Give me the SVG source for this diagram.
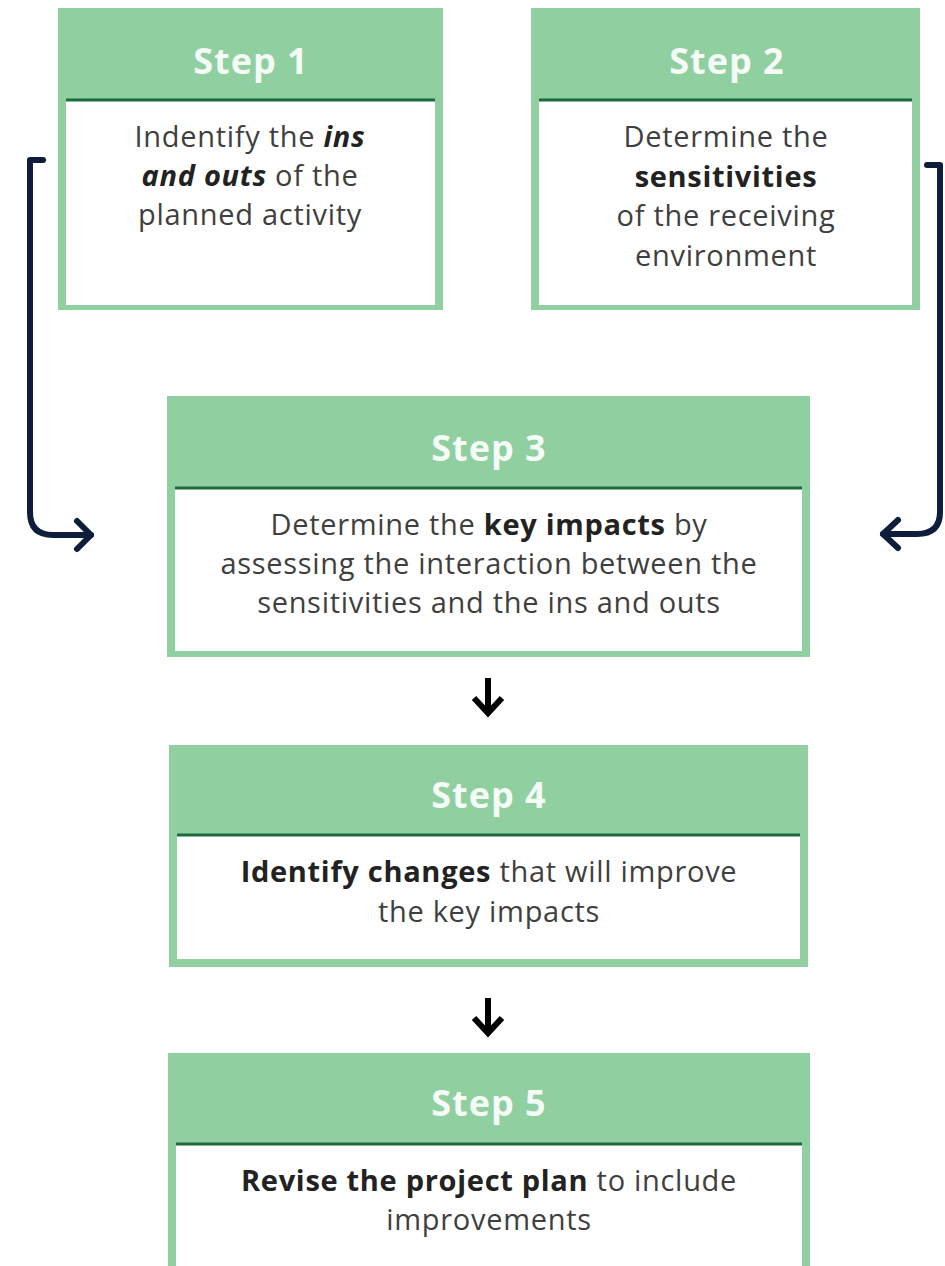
<svg xmlns="http://www.w3.org/2000/svg" width="945" height="1266" viewBox="0 0 945 1266">
<style>
.outer{fill:#90cfa0}
.inner{fill:#ffffff}
.bar{stroke:#1c6a3b;stroke-width:3}
.hd{font-family:"Open Sans","Liberation Sans",sans-serif;font-weight:700;font-size:36px;letter-spacing:1px;fill:#f5fbf6;text-anchor:middle}
.tx{font-family:"Open Sans","Liberation Sans",sans-serif;font-size:29px;letter-spacing:0.7px;fill:#3f3f3f;text-anchor:middle}
.b{font-weight:700;fill:#222222}
.conn{fill:none;stroke:#0e1d3c;stroke-width:6;stroke-linecap:round;stroke-linejoin:round}
.down{fill:none;stroke:#000000;stroke-width:6;stroke-linejoin:miter}
</style>
<rect width="945" height="1266" fill="#ffffff"/>
<g id="step1">
<rect class="outer" x="58" y="8" width="385" height="302"/>
<rect class="inner" x="66" y="100" width="369" height="205"/>
<line class="bar" x1="66" y1="100" x2="435" y2="100"/>
<text class="hd" x="251" y="74">Step 1</text>
<text class="tx" x="250" y="147">Indentify the <tspan class="b" font-style="italic">ins</tspan></text>
<text class="tx" x="250" y="186"><tspan class="b" font-style="italic">and outs</tspan> of the</text>
<text class="tx" x="250" y="225">planned activity</text>
</g>
<g id="step2">
<rect class="outer" x="531" y="8" width="389" height="302"/>
<rect class="inner" x="539" y="100" width="373" height="205"/>
<line class="bar" x1="539" y1="100" x2="912" y2="100"/>
<text class="hd" x="727" y="74">Step 2</text>
<text class="tx" x="726" y="147">Determine the</text>
<text class="tx" x="726" y="187"><tspan class="b">sensitivities</tspan></text>
<text class="tx" x="726" y="226">of the receiving</text>
<text class="tx" x="726" y="266">environment</text>
</g>
<g id="step3">
<rect class="outer" x="167" y="396" width="643" height="261"/>
<rect class="inner" x="175" y="488" width="627" height="163"/>
<line class="bar" x1="175" y1="488" x2="802" y2="488"/>
<text class="hd" x="489" y="461">Step 3</text>
<text class="tx" x="489" y="535">Determine the <tspan class="b">key impacts</tspan> by</text>
<text class="tx" x="489" y="574">assessing the interaction between the</text>
<text class="tx" x="489" y="613">sensitivities and the ins and outs</text>
</g>
<g id="step4">
<rect class="outer" x="169" y="745" width="639" height="222"/>
<rect class="inner" x="177" y="835" width="623" height="124"/>
<line class="bar" x1="177" y1="835" x2="800" y2="835"/>
<text class="hd" x="489" y="808">Step 4</text>
<text class="tx" x="489" y="882"><tspan class="b">Identify changes</tspan> that will improve</text>
<text class="tx" x="489" y="922">the key impacts</text>
</g>
<g id="step5">
<rect class="outer" x="168" y="1053" width="642" height="220"/>
<rect class="inner" x="176" y="1144" width="626" height="130"/>
<line class="bar" x1="176" y1="1144" x2="802" y2="1144"/>
<text class="hd" x="489" y="1116">Step 5</text>
<text class="tx" x="489" y="1191"><tspan class="b">Revise the project plan</tspan> to include</text>
<text class="tx" x="489" y="1230">improvements</text>
</g>
<g id="connectors">
<path class="conn" d="M43 160 H30 V512 Q30 535 53 535 H91"/>
<path class="conn" d="M77 521 L91 535 L77 549"/>
<path class="conn" d="M927 165 H940 V512 Q940 534 917 534 H883"/>
<path class="conn" d="M898 520 L883 534 L898 548"/>
<path class="down" d="M488 678 V712"/>
<path class="down" d="M474 698 L488 713 L502 698"/>
<path class="down" d="M488 998 V1032"/>
<path class="down" d="M474 1018 L488 1033 L502 1018"/>
</g>
</svg>
